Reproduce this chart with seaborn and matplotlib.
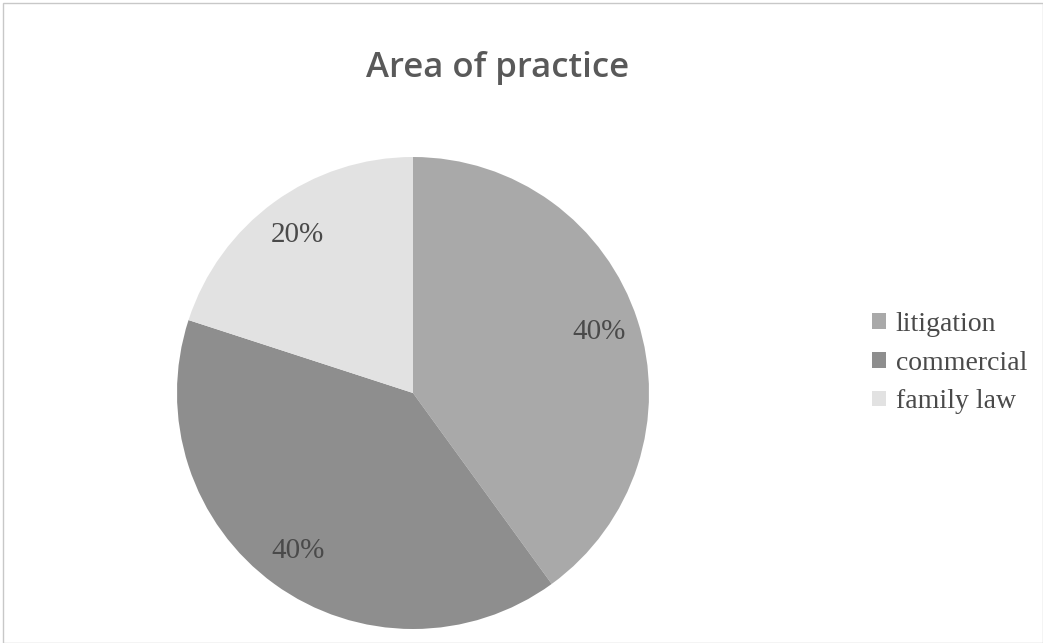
import matplotlib
matplotlib.use("Agg")
import matplotlib.pyplot as plt
import seaborn as sns
from matplotlib.patches import Rectangle

categories = ["litigation", "commercial", "family law"]
shares = [40, 40, 20]
slice_colors = ["#a9a9a9", "#8e8e8e", "#e2e2e2"]

sns.set_theme(style="white")
plt.rcParams['font.family'] = ['Liberation Serif', 'DejaVu Serif']

fig = plt.figure(figsize=(10.43, 6.43), dpi=100)
fig.patch.set_facecolor("white")

# pie axes: centre ~ (413, 393) px, radius ~235 px
W, H = 1043, 643
cx, cy, r = 413, 393, 236
ax = fig.add_axes([(cx - r) / W, 1 - (cy + r) / H, 2 * r / W, 2 * r / H])

wedges, texts, autotexts = ax.pie(
    shares, colors=slice_colors, startangle=90, counterclock=False,
    autopct=lambda p: f"{p:.0f}%", pctdistance=0.83,
    wedgeprops=dict(linewidth=0),
    textprops=dict(fontsize=21, color="#4a4a4a", family="Liberation Serif"),
)
ax.set_aspect("equal")
ax.set_xlim(-1, 1)
ax.set_ylim(-1, 1)
ax.axis("off")

fig.text(498 / W, 1 - 68 / H, "Area of practice", ha="center", va="center",
         fontsize=25, color="#595959", family="Open Sans", fontweight="semibold")

leg = fig.legend(wedges, categories, loc="center left",
                 bbox_to_anchor=(872 / W, 1 - 363 / H), frameon=False,
                 prop=dict(family="Liberation Serif", size=20),
                 handlelength=0.5, handleheight=0.5, handletextpad=0.35,
                 labelspacing=0.5, borderaxespad=0, borderpad=0)
for t in leg.get_texts():
    t.set_color("#4a4a4a")

fig.patches.append(Rectangle((0.003, 0.0), 0.997, 0.995, transform=fig.transFigure,
                             fill=False, edgecolor="#c8c8c8", linewidth=1))

fig.savefig("out.png", dpi=100, facecolor="white")
